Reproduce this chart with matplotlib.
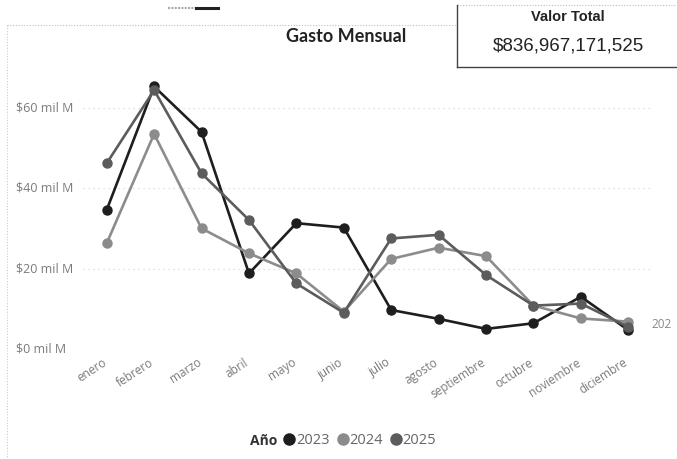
import matplotlib
matplotlib.use("Agg")
import matplotlib.pyplot as plt
import matplotlib.transforms as mtrans
from matplotlib.lines import Line2D

months = ["enero", "febrero", "marzo", "abril", "mayo", "junio", "julio",
          "agosto", "septiembre", "octubre", "noviembre", "diciembre"]
years = ["2023", "2024", "2025"]
g2023 = [34.6, 65.3, 54.0, 18.8, 31.3, 30.2, 9.7, 7.5, 5.0, 6.4, 13.0, 4.7]
g2024 = [26.3, 53.5, 30.0, 23.8, 18.8, 9.3, 22.4, 25.2, 23.1, 10.8, 7.6, 6.8]
g2025 = [46.2, 64.4, 43.7, 32.1, 16.3, 9.0, 27.5, 28.4, 18.4, 10.8, 11.3, 5.5]
yticks = [0, 20, 40, 60]
ytick_labels = ["$0 mil M", "$20 mil M", "$40 mil M", "$60 mil M"]
total_label = "$836,967,171,525"
end_label = "202"

colors = ["#1e1e1e", "#8c8c8c", "#5c5c5c"]
series = [g2023, g2024, g2025]

W, H = 677, 459
fig = plt.figure(figsize=(W / 100, H / 100), dpi=100)
fig.patch.set_facecolor("white")

def fx(x):
    return x / W

def fy(y):
    return 1 - y / H

left, right, top, bottom = 83, 652, 67.6, 349
ax = fig.add_axes([fx(left), fy(bottom), fx(right - left), (bottom - top) / H])
ax.set_facecolor("none")

xs = list(range(len(months)))
for vals, c in zip(series, colors):
    ax.plot(xs, vals, color=c, lw=1.9, marker="o", markersize=6.5,
            markeredgecolor=c, markerfacecolor=c, zorder=3, clip_on=False)

ax.set_xlim(-0.5, len(months) - 0.5)
ax.set_ylim(0, 70)
ax.set_yticks(yticks)
ax.set_yticklabels([])
for s in ax.spines.values():
    s.set_visible(False)
ax.tick_params(axis="both", length=0)
ax.grid(axis="y", color="#d9d9d9", linestyle=(0, (1, 3)), lw=0.9)
ax.set_axisbelow(True)

ax.set_xticks(xs)
ax.set_xticklabels(months, rotation=33, ha="right", va="top", rotation_mode="anchor",
                   fontsize=8.5, color="#7a7a7a", family="Open Sans")
ax.tick_params(axis="x", pad=5)
shift = mtrans.ScaledTranslation(-5 / 100, 0, fig.dpi_scale_trans)
for lab in ax.get_xticklabels():
    lab.set_transform(lab.get_transform() + shift)

trans = mtrans.blended_transform_factory(fig.transFigure, ax.transData)
for v, lab in zip(yticks, ytick_labels):
    ax.text(fx(16), v, lab, transform=trans, ha="left", va="center",
            fontsize=9, color="#7a7a7a", family="Open Sans")

# end label (partly hidden series label)
ax.text(fx(662), 6.0, end_label, transform=trans, ha="center", va="center",
        fontsize=8.5, color="#888888", family="Open Sans")

# title
fig.text(fx(346), fy(37), "Gasto Mensual", ha="center", va="center",
         fontsize=13, fontweight="bold", color="#222222", family="Lato")

# chart dotted border
fig.add_artist(Line2D([fx(7), fx(457)], [fy(25), fy(25)], color="#bbbbbb",
                      lw=0.8, linestyle=(0, (1, 1.5))))
fig.add_artist(Line2D([fx(7), fx(7)], [fy(25), fy(459)], color="#cccccc",
                      lw=0.8, linestyle=(0, (1, 1.5))))

# small top decoration
fig.add_artist(Line2D([fx(168), fx(196)], [fy(8), fy(8)], color="#aaaaaa",
                      lw=1.5, linestyle=(0, (1, 0.6))))
fig.add_artist(Line2D([fx(196), fx(218)], [fy(8), fy(8)], color="#222222", lw=2.2))

# Valor Total card
fig.add_artist(Line2D([fx(457), fx(677)], [fy(5), fy(5)], color="#bbbbbb",
                      lw=0.8, linestyle=(0, (1, 1.5))))
fig.add_artist(Line2D([fx(457), fx(457)], [fy(5), fy(67)], color="#444444", lw=1.0))
fig.add_artist(Line2D([fx(457), fx(677)], [fy(67), fy(67)], color="#444444", lw=1.0))
fig.text(fx(568), fy(17), "Valor Total", ha="center", va="center",
         fontsize=10.5, fontweight="bold", color="#222222", family="Liberation Sans")
fig.text(fx(568), fy(46), total_label, ha="center", va="center",
         fontsize=13.5, color="#222222", family="Liberation Sans")

# legend
fig.text(fx(250), fy(441), "Año", ha="left", va="center", fontsize=10,
         fontweight="bold", color="#333333", family="Open Sans")
handles = [Line2D([], [], linestyle="none", marker="o", markersize=8,
                  color=c) for c in colors]
leg = fig.legend(handles, years, loc="center left", bbox_to_anchor=(fx(285), fy(441)),
                 ncol=3, frameon=False, handlelength=0.6, handletextpad=0.15,
                 columnspacing=0.6, borderpad=0, borderaxespad=0,
                 prop={"family": "Open Sans", "size": 10.5})
for t in leg.get_texts():
    t.set_color("#666666")

fig.savefig("out.png", dpi=100, facecolor="white")
